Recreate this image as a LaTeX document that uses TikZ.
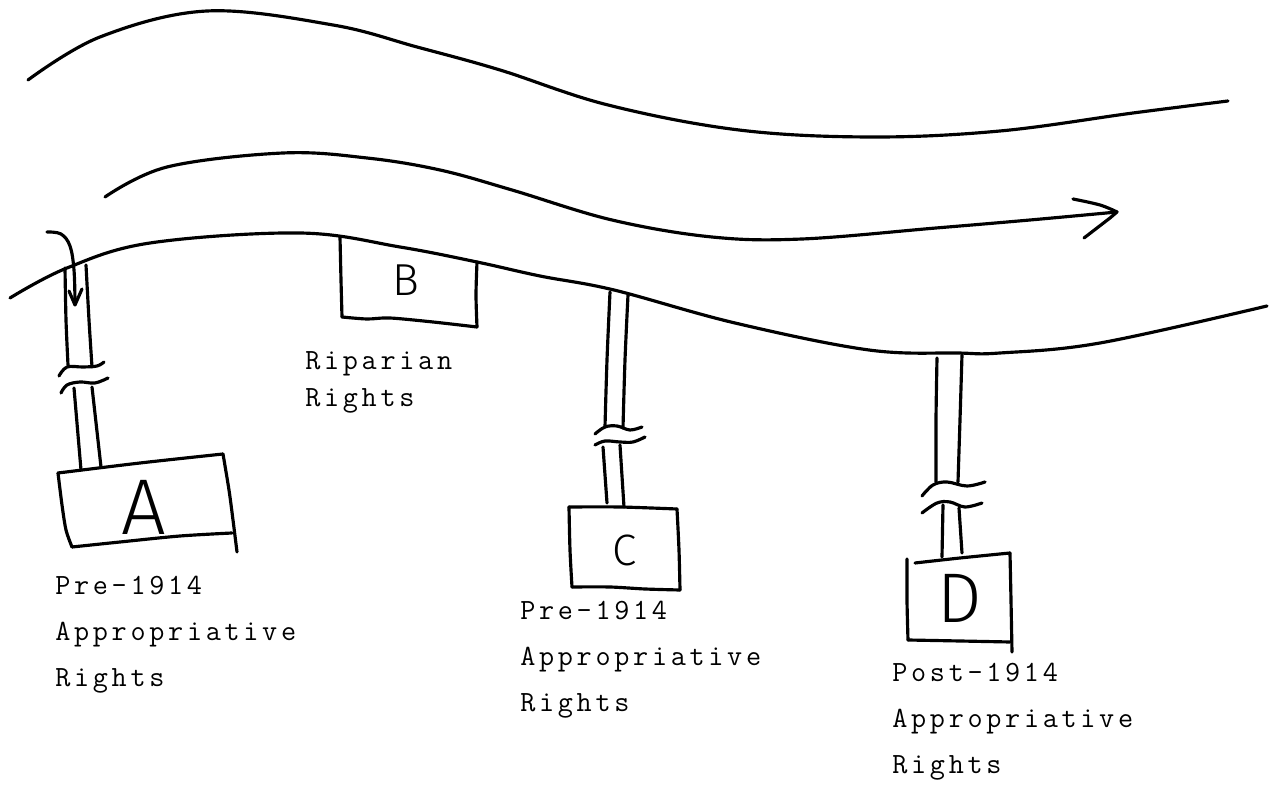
\documentclass[tikz,border=0pt]{standalone}
\usepackage{fontspec}
\newfontfamily\typewriter[LetterSpace=12.6]{Latin Modern Mono}
\newfontfamily\handfont{Fira Sans Light}

\tikzset{
  ink/.style={line width=1.8pt, line cap=round, line join=round},
  typelabel/.style={font=\typewriter\fontsize{16.7}{20}\selectfont, anchor=base west, inner sep=0pt},
  handletter/.style={font=\handfont\fontsize{#1}{#1}\selectfont, inner sep=0pt},
}

\begin{document}
\begin{tikzpicture}[x=0.02cm, y=-0.02cm]
  \useasboundingbox[fill=white] (0,0) rectangle (1276,793);

  % ---- river banks and flow line ----
  \draw[ink] plot[smooth, tension=0.6] coordinates {(28,80) (100,37) (207,11) (333,25) (417,47) (500,70) (608,105) (739,130) (871,137) (1000,131) (1133,113) (1228,101)};
  \draw[ink] plot[smooth, tension=0.6] coordinates {(105,197) (167,167) (283,153) (367,158) (440,170) (512,190) (612,220) (712,237) (802,239) (936,228) (1030,220) (1117,212)};
  \draw[ink] plot[smooth, tension=0.6] coordinates {(1073,199) (1100,205) (1117,212)} -- (1110,218) -- (1084,238);
  \draw[ink] plot[smooth, tension=0.6] coordinates {(10,298) (67,268) (150,243) (300,233) (400,247) (477,262) (540,276) (614,290) (735,323) (869,350) (958,353) (1000,353) (1100,343) (1267,306)};

  % ---- A: diverted pipe with break ----
  \draw[ink] plot[smooth, tension=0.6] coordinates {(47,232) (61,234) (70,246) (74,270) (75,303)};
  \draw[ink] (69,291) -- (75,305) -- (82,289);
  \draw[ink] plot[smooth, tension=0.5] coordinates {(65,268) (66,320) (68,365)};
  \draw[ink] plot[smooth, tension=0.5] coordinates {(86,265) (89,320) (92,367)};
  \draw[ink] plot[smooth, tension=0.6] coordinates {(59,376) (67,367) (83,367) (97,366) (104,362)};
  \draw[ink] plot[smooth, tension=0.6] coordinates {(61,393) (67,385) (80,382) (95,383) (108,378)};
  \draw[ink] (74,388) -- (81,470);
  \draw[ink] (92,387) -- (101,467);
  % box A
  \draw[ink] plot[smooth, tension=0.5] coordinates {(58,473) (140,463) (223,454)};
  \draw[ink] plot[smooth, tension=0.5] coordinates {(58,473) (62,505) (66,530) (72,547)};
  \draw[ink] plot[smooth, tension=0.5] coordinates {(72,547) (120,542) (180,536) (232,533)};
  \draw[ink] plot[smooth, tension=0.5] coordinates {(223,454) (229,490) (233,520) (237,552)};
  \node[handletter=45] (letA) at (144,507) {A};

  % ---- B: riparian box on the bank ----
  \draw[ink] plot[smooth, tension=0.5] coordinates {(340,237) (341,280) (342,317)};
  \draw[ink] plot[smooth, tension=0.5] coordinates {(342,317) (367,319) (390,318) (433,322) (477,327)};
  \draw[ink] plot[smooth, tension=0.5] coordinates {(477,327) (476,295) (477,262)};
  \node[handletter=25.5] (letB) at (406,280) {B};

  % ---- C: pipe with break and box ----
  \draw[ink] plot[smooth, tension=0.5] coordinates {(610,292) (607,360) (605,427)};
  \draw[ink] plot[smooth, tension=0.5] coordinates {(628,295) (625,360) (623,428)};
  \draw[ink] plot[smooth, tension=0.6] coordinates {(595,434) (605,427) (617,426) (630,430) (642,427)};
  \draw[ink] plot[smooth, tension=0.6] coordinates {(595,445) (605,441) (620,442) (633,442) (645,437)};
  \draw[ink] (603,447) -- (607,503);
  \draw[ink] (620,445) -- (624,507);
  \draw[ink] plot[smooth, tension=0.5] coordinates {(569,507) (620,507) (677,509)};
  \draw[ink] plot[smooth, tension=0.5] coordinates {(569,507) (570,550) (572,587)};
  \draw[ink] plot[smooth, tension=0.5] coordinates {(572,587) (610,587) (645,589) (680,590)};
  \draw[ink] plot[smooth, tension=0.5] coordinates {(677,509) (679,550) (680,590)};
  \node[handletter=25] (letC) at (625,550) {C};

  % ---- D: pipe with break and box ----
  \draw[ink] plot[smooth, tension=0.5] coordinates {(937,358) (936,420) (936,482)};
  \draw[ink] plot[smooth, tension=0.5] coordinates {(962,355) (960,420) (958,482)};
  \draw[ink] plot[smooth, tension=0.6] coordinates {(922,496) (933,485) (947,482) (967,486) (985,482)};
  \draw[ink] plot[smooth, tension=0.6] coordinates {(922,513) (937,503) (950,502) (965,507) (982,503)};
  \draw[ink] (943,505) -- (942,557);
  \draw[ink] (959,508) -- (962,553);
  \draw[ink] plot[smooth, tension=0.5] coordinates {(907,559) (907,600) (908,640)};
  \draw[ink] plot[smooth, tension=0.5] coordinates {(915,563) (960,558) (1010,553)};
  \draw[ink] plot[smooth, tension=0.5] coordinates {(908,640) (960,641) (1010,642)};
  \draw[ink] plot[smooth, tension=0.5] coordinates {(1010,553) (1011,600) (1012,652)};
  \node[handletter=40] (letD) at (960,598) {D};

  % ---- typed captions ----
  \node[typelabel] (capA1) at (55,595) {Pre-1914};
  \node[typelabel] (capA2) at (55,641) {Appropriative};
  \node[typelabel] (capA3) at (55,687) {Rights};

  \node[typelabel] (capB1) at (305,370) {Riparian};
  \node[typelabel] (capB2) at (305,407) {Rights};

  \node[typelabel] (capC1) at (520,620) {Pre-1914};
  \node[typelabel] (capC2) at (520,666) {Appropriative};
  \node[typelabel] (capC3) at (520,712) {Rights};

  \node[typelabel] (capD1) at (892,682) {Post-1914};
  \node[typelabel] (capD2) at (892,728) {Appropriative};
  \node[typelabel] (capD3) at (892,774) {Rights};
\end{tikzpicture}
\end{document}
